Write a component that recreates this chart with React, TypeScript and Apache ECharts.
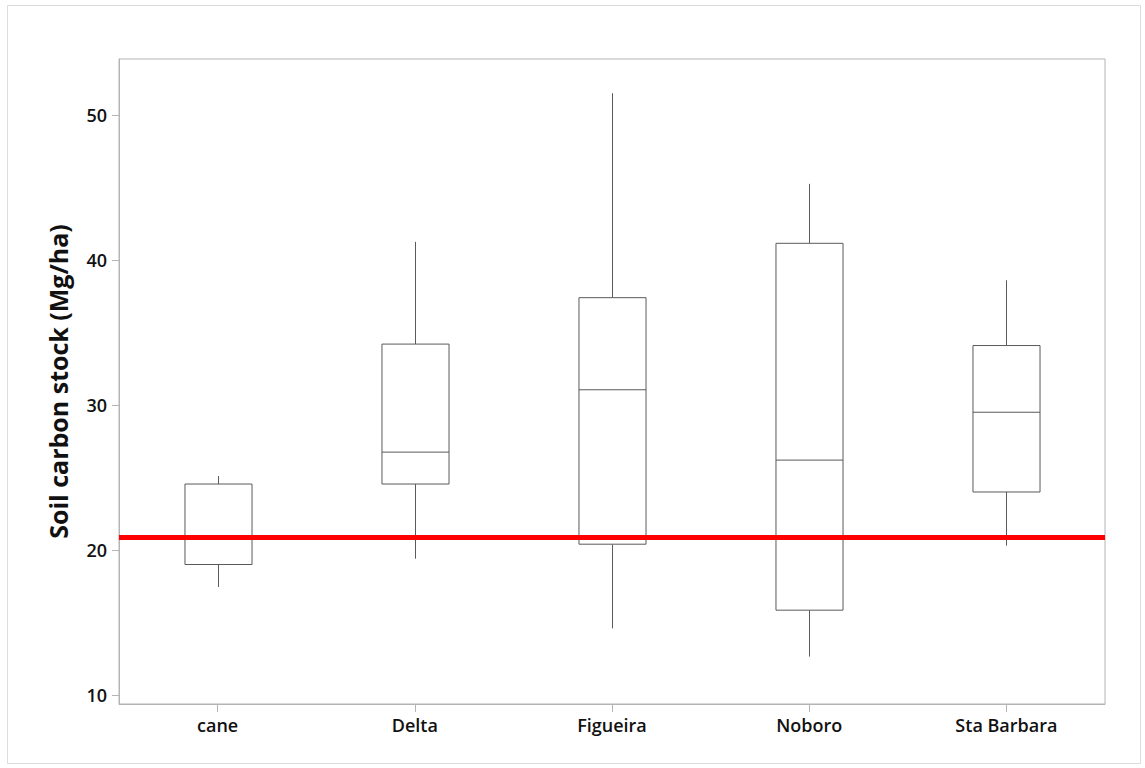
import React, { useEffect, useRef } from "react";
import * as echarts from "echarts";

const categories = ["cane", "Delta", "Figueira", "Noboro", "Sta Barbara"];
// [whiskerLow, Q1, median, Q3, whiskerHigh]
const lowWhisker = [17.45, 19.4, 14.6, 12.65, 20.3];
const q1 = [19.0, 24.55, 20.4, 15.85, 24.0];
const median = [20.9, 26.75, 31.05, 26.2, 29.5];
const q3 = [24.55, 34.2, 37.4, 41.15, 34.1];
const highWhisker = [25.1, 41.25, 51.5, 45.25, 38.6];
const referenceLine = 20.9;
const yTicks = [10, 20, 30, 40, 50];

export default function App() {
  const ref = useRef<HTMLDivElement>(null);
  useEffect(() => {
    if (!ref.current) return;
    const chart = echarts.init(ref.current, null, { renderer: "svg" });
    const data = categories.map((_, i) => [i, lowWhisker[i], q1[i], median[i], q3[i], highWhisker[i]]);
    const font = "'Open Sans', 'Noto Sans', sans-serif";
    chart.setOption({
      animation: false,
      backgroundColor: "#fff",
      graphic: [
        {
          type: "rect",
          shape: { x: 7.5, y: 5.5, width: 1133, height: 758 },
          style: { fill: "none", stroke: "#dcdcdc", lineWidth: 1 },
          silent: true,
        },
      ],
      grid: {
        left: 119,
        top: 59,
        width: 986,
        height: 645,
        show: true,
        borderColor: "#b4b4b4",
        borderWidth: 1,
        backgroundColor: "transparent",
      },
      xAxis: {
        type: "category",
        data: categories,
        boundaryGap: true,
        axisLine: { show: true, lineStyle: { color: "#b4b4b4", width: 1 } },
        axisTick: { show: true, alignWithLabel: true, length: 8, lineStyle: { color: "#b4b4b4" } },
        axisLabel: {
          color: "#111",
          fontFamily: font,
          fontWeight: 600,
          fontSize: 18,
          margin: 12,
        },
        splitLine: { show: false },
      },
      yAxis: {
        type: "value",
        min: 9.38,
        max: 53.86,
        name: "Soil carbon stock (Mg/ha)",
        nameLocation: "middle",
        nameGap: 49,
        nameTextStyle: {
          color: "#111",
          fontFamily: font,
          fontWeight: 700,
          fontSize: 25,
        },
        axisLine: { show: true, lineStyle: { color: "#b4b4b4", width: 1 } },
        axisTick: { show: true, length: 7, lineStyle: { color: "#b4b4b4" }, customValues: yTicks },
        axisLabel: {
          color: "#111",
          fontFamily: font,
          fontWeight: 600,
          fontSize: 18,
          margin: 12,
          customValues: yTicks,
        },
        splitLine: { show: false },
      },
      series: [
        {
          type: "custom",
          data,
          encode: { x: 0, y: [1, 2, 3, 4, 5] },
          renderItem: (params: any, api: any) => {
            const idx = api.value(0);
            const lo = api.coord([idx, api.value(1)]);
            const pq1 = api.coord([idx, api.value(2)]);
            const pmed = api.coord([idx, api.value(3)]);
            const pq3 = api.coord([idx, api.value(4)]);
            const hi = api.coord([idx, api.value(5)]);
            const bw = api.size([1, 0])[0] * 0.34;
            const x = Math.round(lo[0]) + 0.5;
            const stroke = { stroke: "#5a5a5a", lineWidth: 1, fill: "none" };
            return {
              type: "group",
              children: [
                { type: "line", shape: { x1: x, y1: hi[1], x2: x, y2: pq3[1] }, style: stroke },
                { type: "line", shape: { x1: x, y1: pq1[1], x2: x, y2: lo[1] }, style: stroke },
                {
                  type: "rect",
                  shape: { x: x - bw / 2, y: pq3[1], width: bw, height: pq1[1] - pq3[1] },
                  style: { stroke: "#5a5a5a", lineWidth: 1, fill: "#fff" },
                },
                { type: "line", shape: { x1: x - bw / 2, y1: pmed[1], x2: x + bw / 2, y2: pmed[1] }, style: stroke },
              ],
            };
          },
          markLine: {
            silent: true,
            symbol: "none",
            label: { show: false },
            lineStyle: { color: "#ff0000", width: 5, type: "solid" },
            data: [{ yAxis: referenceLine }],
          },
          z: 2,
        },
      ],
    });
    return () => chart.dispose();
  }, []);
  return (
    <div
      ref={ref}
      style={{ position: "fixed", left: 0, top: 0, width: 1145, height: 768 }}
    />
  );
}
